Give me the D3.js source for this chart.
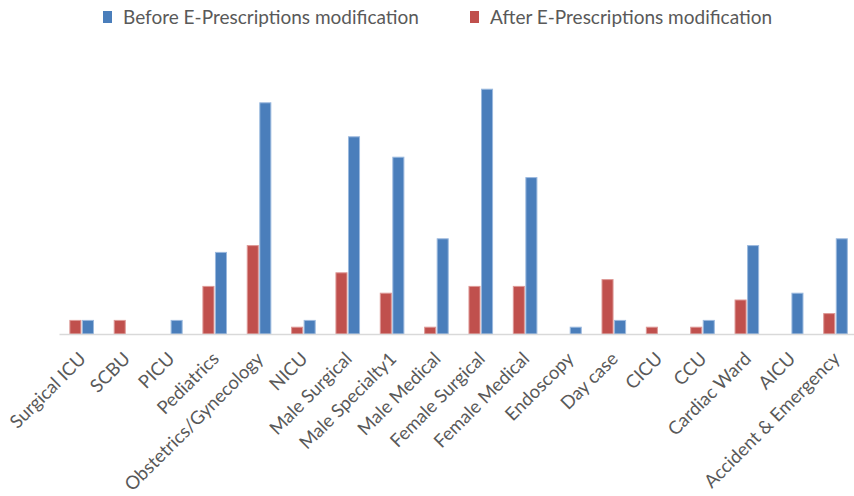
<!DOCTYPE html>
<html>
<head>
<meta charset="utf-8">
<script src="https://cdn.jsdelivr.net/npm/d3@7"></script>
<style>
  html, body { margin: 0; padding: 0; background: #fff; }
  svg { display: block; }
  text { font-family: Lato, "Open Sans", sans-serif; fill: #595959; }
</style>
</head>
<body>
<svg id="chart" width="854" height="496"></svg>
<script>
// Wards / units
const categories = [
  "Surgical ICU", "SCBU", "PICU", "Pediatrics", "Obstetrics/Gynecology", "NICU",
  "Male Surgical", "Male Specialty1", "Male Medical", "Female Surgical", "Female Medical",
  "Endoscopy", "Day case", "CICU", "CCU", "Cardiac Ward", "AICU", "Accident & Emergency"
];
// Counts per ward
const afterValues  = [2, 2, 0, 7, 13, 1, 9, 6, 1, 7, 7, 0, 8, 1, 1, 5, 0, 3];
const beforeValues = [2, 0, 2, 12, 34, 2, 29, 26, 14, 36, 23, 1, 2, 0, 2, 13, 6, 14];

const legendOrder = [
  { name: "Before E-Prescriptions modification", key: "before" },
  { name: "After E-Prescriptions modification", key: "after" }
];

const colors = {
  after:  { fill: "#c0504d", stroke: "#dd9896" },
  before: { fill: "#4a7ebb", stroke: "#9bb9de" }
};

const svg = d3.select("#chart");

const x0 = d3.scaleBand()
  .domain(categories)
  .range([59.5, 857.7])
  .paddingInner(0.4)
  .paddingOuter(0.2);

const x1 = d3.scaleBand()
  .domain(["after", "before"])
  .range([0, x0.bandwidth()])
  .padding(0.12);

const y = d3.scaleLinear().domain([0, 40]).range([334, 62]);

const rows = categories.map((c, i) => ({ cat: c, after: afterValues[i], before: beforeValues[i] }));

// Bars
const groups = svg.append("g").selectAll("g")
  .data(rows)
  .join("g")
  .attr("transform", d => `translate(${x0(d.cat)},0)`);

groups.selectAll("rect")
  .data(d => ["after", "before"].filter(k => d[k] > 0).map(k => ({ key: k, value: d[k] })))
  .join("rect")
  .attr("x", d => x1(d.key))
  .attr("y", d => y(d.value))
  .attr("width", x1.bandwidth())
  .attr("height", d => y(0) - y(d.value))
  .attr("fill", d => colors[d.key].fill)
  .attr("stroke", d => colors[d.key].stroke)
  .attr("stroke-width", 1);

// Category axis
const xAxis = d3.axisBottom(x0).tickSize(0).tickPadding(0);
const axisG = svg.append("g")
  .attr("transform", `translate(0,${y(0) + 0.5})`)
  .call(xAxis);
axisG.select(".domain")
  .attr("d", `M59.5,0H854`)
  .attr("stroke", "#d9d9d9")
  .attr("stroke-width", 1.5);
axisG.selectAll(".tick text")
  .attr("text-anchor", "end")
  .attr("font-size", 18.4)
  .attr("font-family", "Lato, 'Open Sans', sans-serif")
  .attr("fill", "#595959")
  .attr("dy", "0.8em")
  .attr("transform", "translate(-5,15) rotate(-45)");

// Legend
const legend = svg.append("g");
const legendX = { before: 103, after: 470 };
legendOrder.forEach(s => {
  const g = legend.append("g").attr("transform", `translate(${legendX[s.key]},0)`);
  g.append("rect")
    .attr("x", 0).attr("y", 11)
    .attr("width", 9).attr("height", 12)
    .attr("fill", colors[s.key].fill);
  g.append("text")
    .attr("x", 20).attr("y", 24)
    .attr("font-size", 19)
    .text(s.name);
});
</script>
</body>
</html>
